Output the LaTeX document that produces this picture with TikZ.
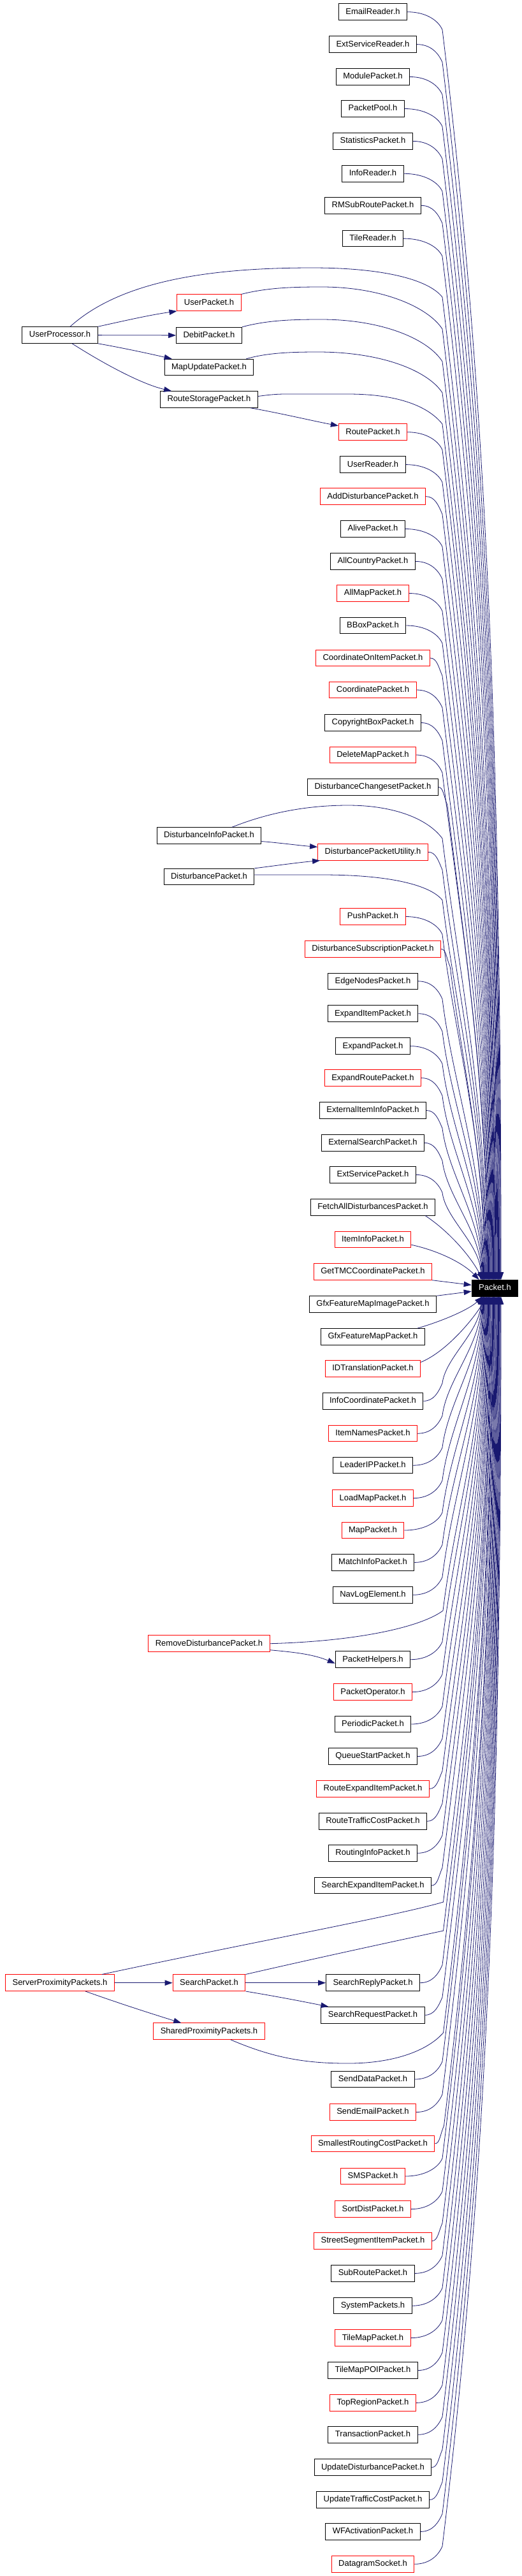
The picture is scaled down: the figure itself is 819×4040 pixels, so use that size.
\documentclass[tikz,border=0pt]{standalone}
\usepackage{fontspec}
\setmainfont{Liberation Sans}
\usetikzlibrary{arrows.meta, calc}
\definecolor{edgeblue}{HTML}{191970}
\tikzset{
  hdr/.style={draw, line width=1pt, font=\fontsize{13}{15}\selectfont, inner xsep=11pt, inner ysep=0pt,
    minimum height=25.5pt, text height=9.4pt, text depth=2.6pt},
  dep/.style={draw=edgeblue, line width=0.8pt, -{Triangle[length=12pt,width=8.5pt]}},
}

\begin{document}
\begin{tikzpicture}[x=1pt, y=1pt]
\useasboundingbox (0,0) rectangle (819,-4040);

% Right column
\foreach \nm/\yy/\col in {EmailReader/18.7/black, ExtServiceReader/69.6/black, ModulePacket/120.5/black,
  PacketPool/170.5/black, StatisticsPacket/221.4/black, InfoReader/272.3/black, RMSubRoutePacket/322.3/black,
  TileReader/374.1/black, RoutePacket/677.7/red, UserReader/728.6/black, AddDisturbancePacket/778.6/red,
  AlivePacket/829.5/black, AllCountryPacket/880.4/black, AllMapPacket/930.5/red, BBoxPacket/981/black,
  CoordinateOnItemPacket/1032/red, CoordinatePacket/1082/red, CopyrightBoxPacket/1133.5/black,
  DeleteMapPacket/1184/red, DisturbanceChangesetPacket/1234.5/black, DisturbancePacketUtility/1336.3/red,
  PushPacket/1437.5/red, DisturbanceSubscriptionPacket/1488.4/red, EdgeNodesPacket/1538.8/black,
  ExpandItemPacket/1589.7/black, ExpandPacket/1640.6/black, ExpandRoutePacket/1690.6/red,
  ExternalItemInfoPacket/1741.5/black, ExternalSearchPacket/1792.4/black, ExtServicePacket/1842.4/black,
  FetchAllDisturbancesPacket/1893.3/black, ItemInfoPacket/1944.2/red, GetTMCCoordinatePacket/1994.5/red,
  GfxFeatureMapImagePacket/2045.5/black, GfxFeatureMapPacket/2096.4/black, IDTranslationPacket/2146.4/red,
  InfoCoordinatePacket/2197.3/black, ItemNamesPacket/2248.2/red, LeaderIPPacket/2298.2/black,
  LoadMapPacket/2349.6/red, MapPacket/2400/red, MatchInfoPacket/2450.4/black, NavLogElement/2501.3/black,
  PacketHelpers/2602.7/black, PacketOperator/2653.6/red, PeriodicPacket/2704/black,
  QueueStartPacket/2754.5/black, RouteExpandItemPacket/2805.4/red, RouteTrafficCostPacket/2856.3/black,
  RoutingInfoPacket/2906.3/black, SearchExpandItemPacket/2957.1/black, SearchReplyPacket/3109.7/black,
  SearchRequestPacket/3160.3/black, SendDataPacket/3261/black, SendEmailPacket/3312.5/red,
  SmallestRoutingCostPacket/3361.8/red, SMSPacket/3413/red, SortDistPacket/3464.6/red,
  StreetSegmentItemPacket/3514.5/red, SubRoutePacket/3565.4/black, SystemPackets/3616.2/black,
  TileMapPacket/3666.6/red, TileMapPOIPacket/3717.5/black, TopRegionPacket/3768.4/red,
  TransactionPacket/3818.3/black, UpdateDisturbancePacket/3869.6/black, UpdateTrafficCostPacket/3920.5/black,
  WFActivationPacket/3970.4/black, DatagramSocket/4021.3/red}
  \node[hdr, draw=\col] (\nm) at (585,-\yy) {\nm.h};

% Left and middle columns
\foreach \nm/\xx/\yy/\col in {UserProcessor/94/525.5/black, UserPacket/328/474.7/red, DebitPacket/328/526/black,
  MapUpdatePacket/328/576/black, RouteStoragePacket/328/626.5/black, DisturbanceInfoPacket/328/1310.5/black,
  DisturbancePacket/328/1375/black, RemoveDisturbancePacket/328/2577.7/red,
  ServerProximityPackets/94/3109.7/red, SearchPacket/328/3109.7/red, SharedProximityPackets/328/3185.7/red}
  \node[hdr, draw=\col] (\nm) at (\xx,-\yy) {\nm.h};

\node[hdr, fill=black, text=white] (Packet) at (776.5,-2020.3) {Packet.h};

% Edges into Packet.h from above
\foreach \nm in {EmailReader, ExtServiceReader, ModulePacket, PacketPool, StatisticsPacket, InfoReader,
  RMSubRoutePacket, TileReader, RoutePacket, UserReader, AddDisturbancePacket, AlivePacket, AllCountryPacket,
  AllMapPacket, BBoxPacket, CoordinateOnItemPacket, CoordinatePacket, CopyrightBoxPacket, DeleteMapPacket,
  DisturbanceChangesetPacket, DisturbancePacketUtility, PushPacket, DisturbanceSubscriptionPacket,
  EdgeNodesPacket, ExpandItemPacket, ExpandPacket, ExpandRoutePacket, ExternalItemInfoPacket,
  ExternalSearchPacket, ExtServicePacket}
  \draw[dep] let \p1=(\nm.east), \p2=({max(694pt,\x1+14pt)},{\y1-28pt}), \p3=(Packet.north west),
      \n1={\y2-\y3}, \p4=({\x3+12pt+0.0175*\n1},\y3)
    in (\p1) .. controls ({\x1+0.55*(\x2-\x1)},\y1) and ({\x2-6pt},{\y2+14pt}) .. (\p2)
       .. controls ({\x2+0.0366*\n1},{\y2-0.3*\n1}) and (\x4,{\y4+0.4*\n1}) .. (\p4);

% Edges into Packet.h from below
\foreach \nm in {InfoCoordinatePacket, ItemNamesPacket, LeaderIPPacket, LoadMapPacket, MapPacket,
  MatchInfoPacket, NavLogElement, PacketHelpers, PacketOperator, PeriodicPacket, QueueStartPacket,
  RouteExpandItemPacket, RouteTrafficCostPacket, RoutingInfoPacket, SearchExpandItemPacket,
  SearchReplyPacket, SearchRequestPacket, SendDataPacket, SendEmailPacket, SmallestRoutingCostPacket,
  SMSPacket, SortDistPacket, StreetSegmentItemPacket, SubRoutePacket, SystemPackets, TileMapPacket,
  TileMapPOIPacket, TopRegionPacket, TransactionPacket, UpdateDisturbancePacket, UpdateTrafficCostPacket,
  WFActivationPacket, DatagramSocket}
  \draw[dep] let \p1=(\nm.east), \p2=({max(694pt,\x1+14pt)},{\y1+28pt}), \p3=(Packet.south west),
      \n1={\y3-\y2}, \p4=({\x3+12pt+0.0175*\n1},\y3)
    in (\p1) .. controls ({\x1+0.55*(\x2-\x1)},\y1) and ({\x2-6pt},{\y2-14pt}) .. (\p2)
       .. controls ({\x2+0.0366*\n1},{\y2+0.3*\n1}) and (\x4,{\y4-0.4*\n1}) .. (\p4);

% Short edges next to Packet.h
\draw[dep] ($(FetchAllDisturbancesPacket.south east)+(-16,0)$) .. controls (700,-1928) and (735,-1965) .. ($(Packet.north west)+(18,0)$);
\draw[dep] ($(ItemInfoPacket.east)+(0,-8)$) .. controls (690,-1962) and (728,-1982) .. ($(Packet.north west)+(12,0)$);
\draw[dep] (GetTMCCoordinatePacket.south east) -- ($(Packet.west)+(0,5)$);
\draw[dep] (GfxFeatureMapImagePacket.north east) -- ($(Packet.west)+(0,-5)$);
\draw[dep] ($(GfxFeatureMapPacket.north east)+(-12,0)$) .. controls (700,-2070) and (738,-2052) .. ($(Packet.south west)+(17,0)$);
\draw[dep] ($(IDTranslationPacket.east)+(0,10)$) .. controls (700,-2120) and (742,-2070) .. ($(Packet.south west)+(24,0)$);

% Long arcs from the left columns
\draw[dep] ($(UserProcessor.north)+(16,0)$) .. controls (190,-440) and (330,-420) .. (490,-420)
  .. controls (600,-420) and (672,-438) .. (694,-466)
  .. controls (750,-929) and (779,-1391) .. ($(Packet.north west)+(39,0)$);
\draw[dep] (UserPacket.north east) .. controls (420,-451) and (460,-450) .. (505,-450)
  .. controls (600,-450) and (672,-482) .. (694,-516)
  .. controls (748.6,-963.6) and (778,-1411) .. ($(Packet.north west)+(38,0)$);
\draw[dep] (DebitPacket.north east) .. controls (420,-502) and (460,-501) .. (504,-501)
  .. controls (600,-501) and (672,-532) .. (694,-567)
  .. controls (746.7,-999) and (777,-1431.6) .. ($(Packet.north west)+(37,0)$);
\draw[dep] ($(MapUpdatePacket.north east)+(-12,0)$) .. controls (420,-553) and (460,-552) .. (499,-552)
  .. controls (600,-552) and (672,-582) .. (694,-616)
  .. controls (745,-1033.6) and (776.4,-1451) .. ($(Packet.north west)+(36.4,0)$);
\draw[dep] ($(RouteStoragePacket.east)+(0,5)$) .. controls (430,-618) and (440,-618) .. (451,-618) -- (546,-618)
  .. controls (620,-618) and (670,-635) .. (694,-665)
  .. controls (743,-1068) and (775.5,-1470.8) .. ($(Packet.north west)+(35.5,0)$);
\draw[dep] ($(DisturbanceInfoPacket.north)+(36,0)$) .. controls (420,-1275) and (480,-1263) .. (546,-1263)
  .. controls (620,-1263) and (672,-1285) .. (694,-1315)
  .. controls (719.4,-1523) and (764.1,-1730.8) .. ($(Packet.north west)+(24.1,0)$);
\draw[dep] ($(DisturbancePacket.east)+(0,3)$) -- (506,-1372)
  .. controls (600,-1372) and (672,-1385) .. (694,-1411.6)
  .. controls (715.8,-1590.5) and (762.4,-1769.4) .. ($(Packet.north west)+(22.4,0)$);
\draw[dep] (RemoveDisturbancePacket.east) .. controls (560,-2574) and (660,-2552) .. (695,-2526)
  .. controls (713,-2378) and (760.6,-2230) .. ($(Packet.south west)+(20.6,0)$);
\draw[dep] ($(ServerProximityPackets.north)+(66,0)$) .. controls (400,-3045) and (620,-3005) .. (695.5,-2983)
  .. controls (730,-2698) and (768.6,-2413) .. ($(Packet.south west)+(28.6,0)$);
\draw[dep] (SearchPacket.north east) .. controls (500,-3070) and (640,-3040) .. (695.5,-3028)
  .. controls (732,-2729.5) and (769.4,-2431) .. ($(Packet.south west)+(29.4,0)$);
\draw[dep] ($(SharedProximityPackets.south)+(34,0)$) .. controls (430,-3228) and (480,-3236) .. (546,-3236)
  .. controls (620,-3236) and (672,-3215) .. (695.5,-3188)
  .. controls (737.8,-2841.5) and (772.2,-2495) .. ($(Packet.south west)+(32.2,0)$);

% Includes between the left columns
\draw[dep] (UserProcessor.north east) .. controls (200,-502) and (235,-494) .. (UserPacket.south west);
\draw[dep] (UserProcessor) -- (DebitPacket);
\draw[dep] (UserProcessor.south east) .. controls (200,-547) and (240,-556) .. ($(MapUpdatePacket.north west)+(12,0)$);
\draw[dep] ($(UserProcessor.south)+(19,0)$) .. controls (170,-575) and (225,-603) .. ($(RouteStoragePacket.north west)+(18,0)$);
\draw[dep] ($(RouteStoragePacket.south east)+(-12,0)$) .. controls (440,-648) and (490,-660) .. ($(RoutePacket.west)+(0,10)$);
\draw[dep] ($(DisturbanceInfoPacket.east)+(0,-9)$) .. controls (440,-1322) and (470,-1326) .. ($(DisturbancePacketUtility.west)+(0,8)$);
\draw[dep] (DisturbancePacket.north east) .. controls (430,-1358) and (465,-1353) .. ($(DisturbancePacketUtility.south west)+(4,0)$);
\draw[dep] ($(RemoveDisturbancePacket.east)+(0,-10)$) .. controls (460,-2591) and (490,-2594) .. ($(PacketHelpers.west)+(0,-6)$);
\draw[dep] (ServerProximityPackets) -- (SearchPacket);
\draw[dep] ($(ServerProximityPackets.south)+(40,0)$) .. controls (190,-3143) and (250,-3162) .. ($(SharedProximityPackets.north west)+(44,0)$);
\draw[dep] (SearchPacket) -- (SearchReplyPacket);
\draw[dep] (SearchPacket.south east) .. controls (440,-3132) and (480,-3140) .. ($(SearchRequestPacket.north west)+(12,0)$);

\end{tikzpicture}
\end{document}
